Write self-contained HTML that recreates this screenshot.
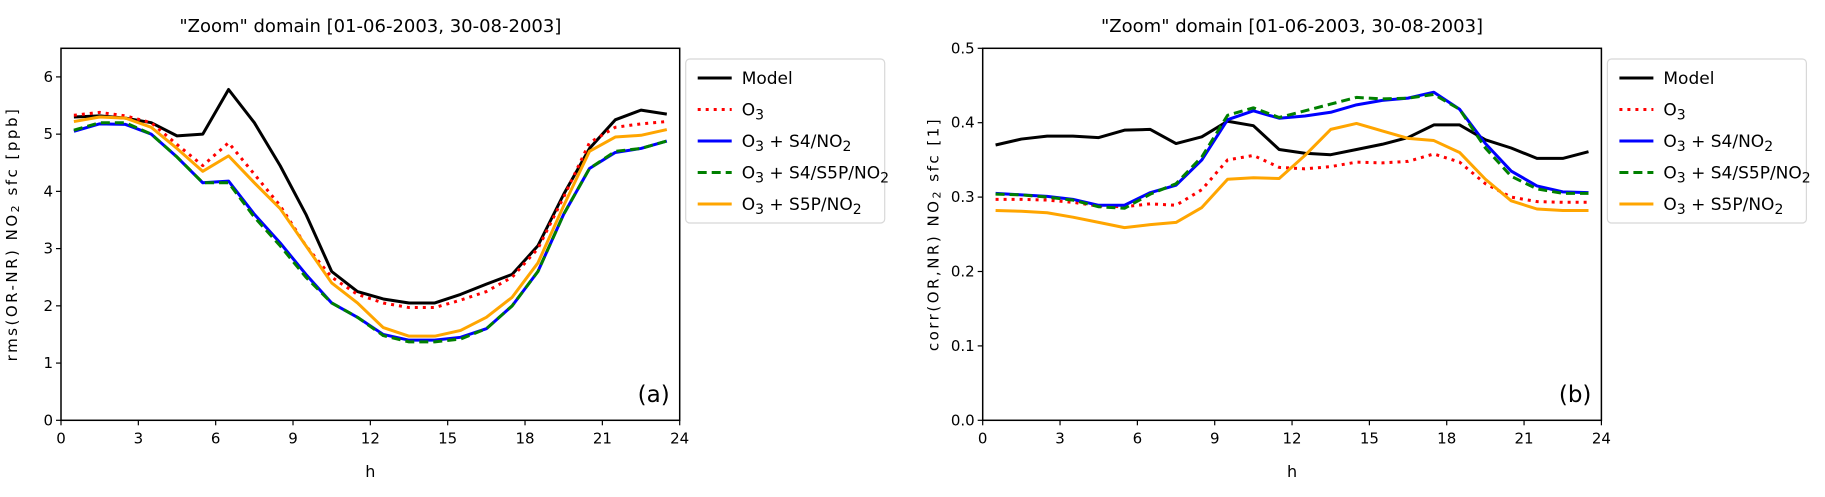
<!DOCTYPE html>
<html><head><meta charset="utf-8"><style>
html,body{margin:0;padding:0;background:#fff;width:1825px;height:497px;overflow:hidden}
svg{display:block}
text{font-family:"DejaVu Sans","Liberation Sans",sans-serif;fill:#000}
</style></head><body>
<svg id="fig" width="1825" height="497" xmlns="http://www.w3.org/2000/svg"></svg>
<script>
const hours=[0.5,1.5,2.5,3.5,4.5,5.5,6.5,7.5,8.5,9.5,10.5,11.5,12.5,13.5,14.5,15.5,16.5,17.5,18.5,19.5,20.5,21.5,22.5,23.5];
const xTicks=[0,3,6,9,12,15,18,21,24];
const yTicksA=[0,1,2,3,4,5,6];
const yTicksB=[0.0,0.1,0.2,0.3,0.4,0.5];
const seriesNames=["Model","O3","O3 + S4/NO2","O3 + S4/S5P/NO2","O3 + S5P/NO2"];
const rmsModel=[5.3,5.32,5.28,5.2,4.97,5.0,5.78,5.2,4.45,3.6,2.6,2.25,2.12,2.05,2.05,2.2,2.38,2.55,3.05,3.95,4.75,5.25,5.42,5.35];
const rmsO3=[5.33,5.38,5.32,5.2,4.82,4.45,4.85,4.3,3.75,3.05,2.5,2.2,2.05,1.97,1.97,2.1,2.25,2.5,3.0,3.9,4.85,5.12,5.18,5.22];
const rmsS4=[5.05,5.18,5.17,5.0,4.6,4.15,4.18,3.6,3.1,2.55,2.05,1.8,1.5,1.4,1.4,1.45,1.6,2.0,2.6,3.6,4.4,4.68,4.75,4.88];
const rmsS4S5P=[5.07,5.2,5.2,5.0,4.6,4.15,4.15,3.55,3.05,2.5,2.05,1.8,1.48,1.37,1.37,1.42,1.6,2.0,2.6,3.6,4.4,4.7,4.75,4.88];
const rmsS5P=[5.22,5.3,5.28,5.12,4.75,4.35,4.62,4.15,3.7,3.05,2.4,2.05,1.62,1.47,1.47,1.57,1.8,2.15,2.75,3.75,4.7,4.95,4.98,5.08];
const corrModel=[.370,.378,.382,.382,.380,.390,.391,.372,.381,.402,.396,.364,.359,.357,.364,.371,.380,.397,.397,.377,.366,.352,.352,.361];
const corrO3=[.297,.297,.296,.293,.288,.287,.291,.289,.310,.350,.356,.340,.338,.341,.347,.346,.348,.358,.347,.318,.300,.294,.293,.293];
const corrS4=[.305,.303,.301,.297,.289,.289,.306,.316,.350,.404,.416,.406,.409,.414,.424,.430,.433,.441,.418,.372,.335,.315,.307,.306];
const corrS4S5P=[.304,.303,.300,.296,.287,.285,.304,.318,.354,.410,.420,.407,.416,.425,.434,.432,.433,.438,.418,.366,.328,.311,.305,.305];
const corrS5P=[.282,.281,.279,.273,.266,.259,.263,.266,.286,.324,.326,.325,.356,.391,.399,.389,.379,.376,.360,.324,.295,.284,.282,.282];

const NS="http://www.w3.org/2000/svg";
const svg=document.getElementById('fig');
function mk(tag,attrs,parent){const e=document.createElementNS(NS,tag);for(const k in attrs)e.setAttribute(k,attrs[k]);(parent||svg).appendChild(e);return e;}
const styles=[
 {stroke:"#000",w:3,dash:null},
 {stroke:"#ff0000",w:3,dash:"3,5"},
 {stroke:"#0000ff",w:3,dash:null},
 {stroke:"#008000",w:3,dash:"9,5"},
 {stroke:"#ffa500",w:3,dash:null}
];
function panel(cfg){
 const L=cfg.x0,R=cfg.x0+618.7,T=48.3,B=420.3;
 const g=mk('g',{});
 
 
 const sx=v=>L+(v/24)*(R-L);
 const sy=v=>B-(v/cfg.ymax)*(B-T);
 const t=mk('text',{x:(L+R)/2,y:32,'text-anchor':'middle','font-size':18},g);
 t.textContent='"Zoom" domain  [01-06-2003, 30-08-2003]';
 
 
 const clip=mk('clipPath',{id:'c'+cfg.id},g);mk('rect',{x:L,y:T,width:R-L,height:B-T},clip);
 cfg.series.forEach((arr,i)=>{
  const s=styles[i];
  const p=mk('polyline',{points:arr.map((v,j)=>sx(hours[j])+','+sy(v)).join(' '),fill:'none',stroke:s.stroke,'stroke-width':s.w,'stroke-linejoin':'round','clip-path':'url(#c'+cfg.id+')'},g);
  if(s.dash)p.setAttribute('stroke-dasharray',s.dash);
  
  
 });
 const fr=mk('rect',{x:L,y:T,width:R-L,height:B-T,fill:'none',stroke:'#000','stroke-width':1.5},g);
 
 
 xTicks.forEach(v=>{
  mk('line',{x1:sx(v),x2:sx(v),y1:B,y2:B+5,stroke:'#000','stroke-width':1.2},g);
  const tl=mk('text',{x:sx(v),y:B+23,'text-anchor':'middle','font-size':15},g);tl.textContent=v;
  
  
 });
 cfg.yt.forEach(v=>{
  mk('line',{x1:L-5,x2:L,y1:sy(v),y2:sy(v),stroke:'#000','stroke-width':1.2},g);
  const tl=mk('text',{x:L-8,y:sy(v)+5,'text-anchor':'end','font-size':15},g);tl.textContent=cfg.fmt(v);
  
  
 });
 const xl=mk('text',{x:(L+R)/2,y:477,'text-anchor':'middle','font-size':16},g);xl.textContent='h';
 
 
 const yl=mk('text',{x:0,y:0,'text-anchor':'middle','font-size':15,'letter-spacing':'2.5',transform:'translate('+(cfg.x0-44)+',234) rotate(-90)'},g);
 yl.innerHTML=cfg.ylab;
 
 
 const pl=mk('text',{x:R-10,y:402,'text-anchor':'end','font-size':23},g);pl.textContent=cfg.tag;
 
 
 const lx=R+6,ly=59;
 const lg=mk('g',{},g);
 
 
 mk('rect',{x:lx,y:ly,width:199,height:164,rx:4,fill:'#fff',stroke:'#d8d8d8','stroke-width':1.2},lg);
 const labels=['Model','O<tspan baseline-shift="-25%" font-size="14">3</tspan>','O<tspan baseline-shift="-25%" font-size="14">3</tspan> + S4/NO<tspan baseline-shift="-25%" font-size="14">2</tspan>','O<tspan baseline-shift="-25%" font-size="14">3</tspan> + S4/S5P/NO<tspan baseline-shift="-25%" font-size="14">2</tspan>','O<tspan baseline-shift="-25%" font-size="14">3</tspan> + S5P/NO<tspan baseline-shift="-25%" font-size="14">2</tspan>'];
 labels.forEach((lab,i)=>{
  const y=ly+19+i*31.5,s=styles[i];
  const e=mk('g',{},lg);
  
  
  const ln=mk('line',{x1:lx+12,x2:lx+46,y1:y,y2:y,stroke:s.stroke,'stroke-width':3},e);
  if(s.dash)ln.setAttribute('stroke-dasharray',s.dash);
  const tx=mk('text',{x:lx+56,y:y+6,'font-size':17},e);tx.innerHTML=lab;
 });
}
panel({id:'a',name:'rms-chart',x0:61,ymax:6.5,yt:yTicksA,fmt:v=>String(v),tag:'(a)',
 ylab:'rms(OR-NR)  NO<tspan baseline-shift="-20%" font-size="11">2</tspan>  sfc  [ppb]',
 series:[rmsModel,rmsO3,rmsS4,rmsS4S5P,rmsS5P]});
panel({id:'b',name:'corr-chart',x0:982.7,ymax:0.5,yt:yTicksB,fmt:v=>v.toFixed(1),tag:'(b)',
 ylab:'corr(OR,NR)  NO<tspan baseline-shift="-20%" font-size="11">2</tspan>  sfc  [1]',
 series:[corrModel,corrO3,corrS4,corrS4S5P,corrS5P]});
</script>
</body></html>
